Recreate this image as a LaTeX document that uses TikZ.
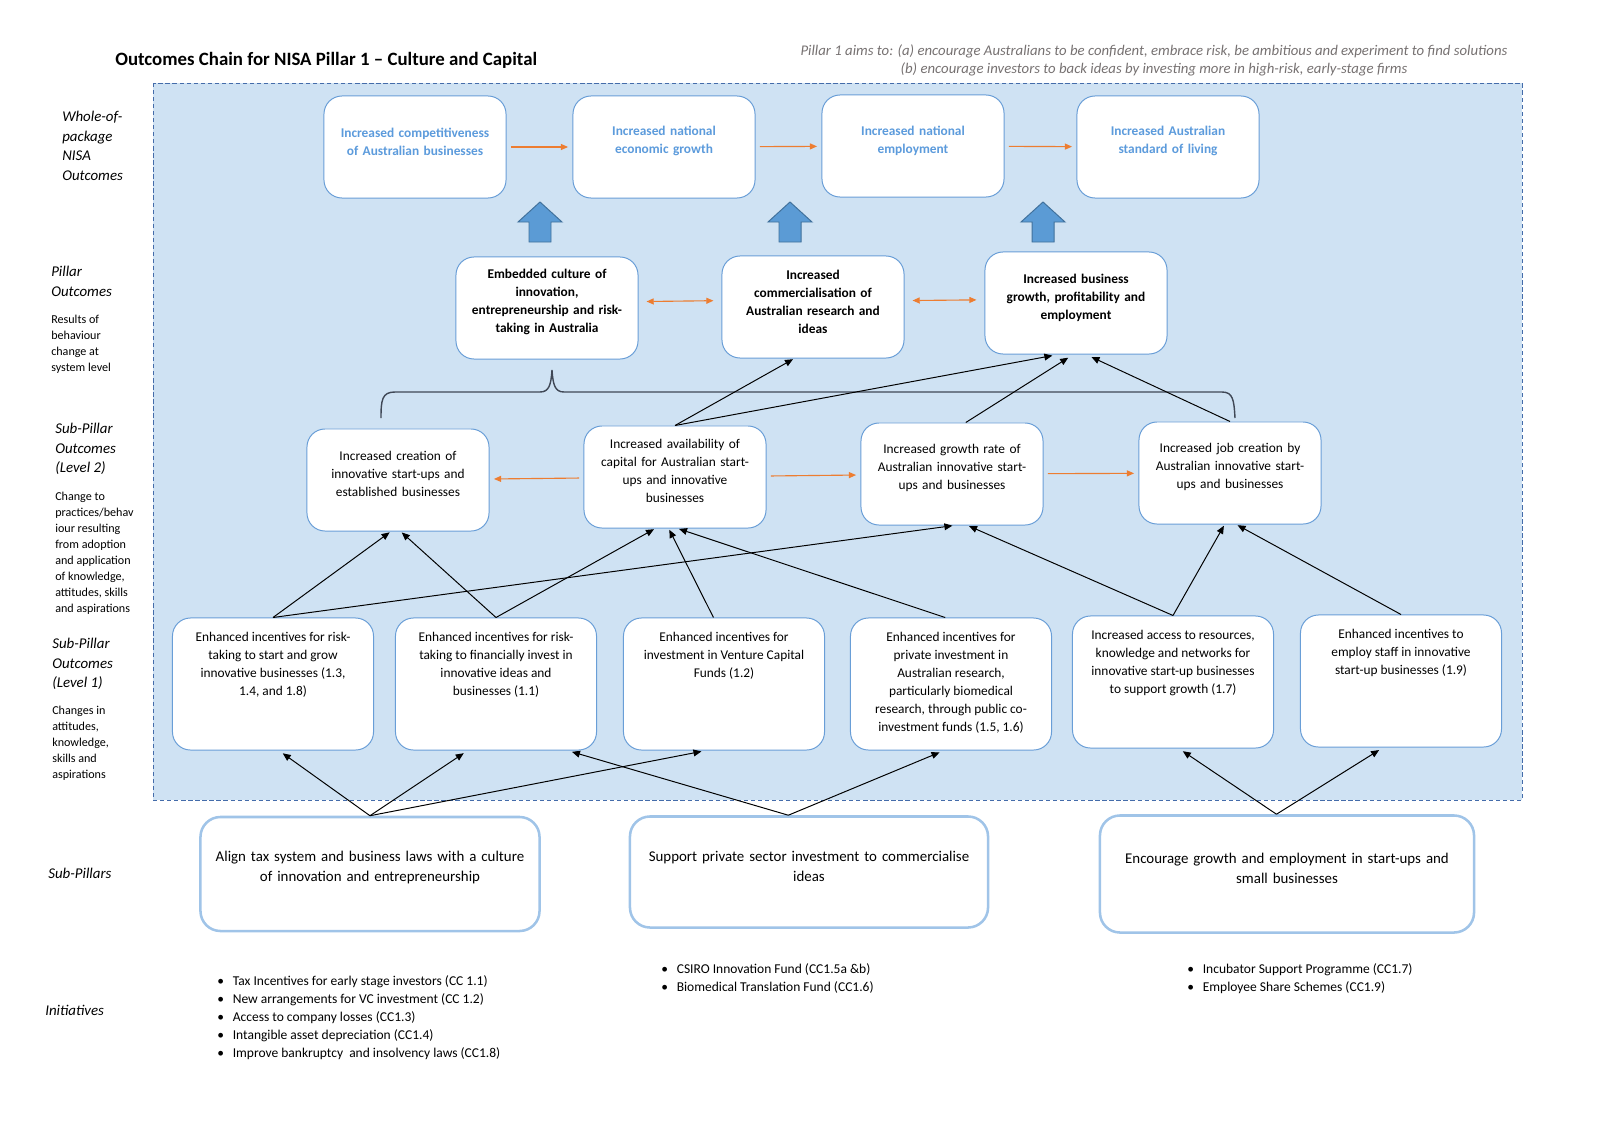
\documentclass[tikz,border=0pt]{standalone}
\usepackage{fontspec}
\setmainfont{Carlito}
\usetikzlibrary{arrows.meta, positioning}
\usepackage{xcolor}
\definecolor{PaneBlue}{RGB}{207,226,243}
\definecolor{DashBlue}{RGB}{68,108,170}
\definecolor{EdgeBlue}{RGB}{105,158,215}
\definecolor{SoftBlue}{RGB}{160,196,232}
\definecolor{TextBlue}{RGB}{92,155,220}
\definecolor{ArrowOrange}{RGB}{237,125,49}
\definecolor{BlockBlue}{RGB}{91,155,213}
\definecolor{BlockEdge}{RGB}{65,113,156}
\definecolor{AimGrey}{RGB}{118,113,113}
\definecolor{BraceGrey}{RGB}{64,72,86}

\newcommand{\bul}{\textbullet\hspace{0.22cm}}
\newcommand{\liftcard}{\par\kern0.28cm}
\newcommand{\liftsub}{\par\kern0.3cm}

\begin{document}
\begin{tikzpicture}[x=0.025cm, y=-0.025cm,
          card/.style={rectangle, draw=EdgeBlue, line width=0.7pt, fill=white, rounded corners=0.45cm, minimum width=4.55cm, minimum height=2.55cm, text width=4.35cm, inner xsep=0.1cm, align=center, font=\fontsize{9.5}{12.8}\selectfont, execute at end node=\liftcard},
          wholebox/.style={card, text=TextBlue, font=\fontsize{9.5}{12.8}\selectfont\bfseries},
          pillarbox/.style={card, font=\fontsize{9.5}{12.8}\selectfont\bfseries},
          levelbox/.style={card},
          enablebox/.style={rectangle, draw=EdgeBlue, line width=0.7pt, fill=white, rounded corners=0.45cm, minimum width=5.025cm, minimum height=3.3cm, inner sep=0pt, font=\fontsize{9.5}{12.8}\selectfont, execute at begin node={\begin{minipage}[c][2.6cm][t]{4.8cm}\centering}, execute at end node={\end{minipage}}},
          subbox/.style={rectangle, draw=SoftBlue, line width=1.8pt, fill=white, rounded corners=0.5cm, inner xsep=0.1cm, align=center, font=\fontsize{10.6}{14.2}\selectfont, execute at end node=\liftsub},
          flow/.style={arrows={-Triangle[length=0.2cm,width=0.17cm]}, line width=0.7pt, black, shorten >=1pt},
          link/.style={arrows={-Triangle[length=0.18cm,width=0.15cm]}, line width=0.8pt, ArrowOrange, shorten <=0.11cm, shorten >=0.11cm},
          bilink/.style={link, arrows={Triangle[length=0.18cm,width=0.15cm]-Triangle[length=0.18cm,width=0.15cm]}, shorten <=0.2cm, shorten >=0.2cm},
          pane/.style={draw=DashBlue, fill=PaneBlue, dash pattern=on 3pt off 2pt, line width=0.7pt},
          blockup/.style={fill=BlockBlue, draw=BlockEdge, line width=0.7pt},
          brace/.style={draw=BraceGrey, line width=1pt},
          rowlabel/.style={align=left, inner sep=0pt, anchor=north west, font=\fontsize{10.6}{13.9}\selectfont\itshape},
          rownote/.style={align=left, inner sep=0pt, anchor=north west, font=\fontsize{8.6}{11.4}\selectfont},
          initlist/.style={align=left, inner sep=0pt, anchor=north west, font=\fontsize{9.6}{12.9}\selectfont}
        ]
          \useasboundingbox (0,0) rectangle (1613,1138);
          \draw[pane] (153,83) rectangle (1522,800);

          % titles
          \node (title) [anchor=west, inner sep=0pt, font=\fontsize{13.4}{16}\selectfont\bfseries] at (115,60) {Outcomes Chain for NISA Pillar 1 -- Culture and Capital};
          \node (aims) [align=center, inner sep=0pt, text=AimGrey, font=\fontsize{10.5}{12.8}\selectfont\itshape] at (1154,60) {Pillar 1 aims to: (a) encourage Australians to be confident, embrace risk, be ambitious and experiment to find solutions\\(b) encourage investors to back ideas by investing more in high-risk, early-stage firms};

          % row labels
          \node (lblwhole) [rowlabel] at (62,111) {Whole-of-\\package\\NISA\\Outcomes};
          \node (lblpillar) [rowlabel] at (51,266) {Pillar\\Outcomes};
          \node (notepillar) [rownote] at (51,315) {Results of\\behaviour\\change at\\system level};
          \node (lbllevel2) [rowlabel] at (55,423) {Sub-Pillar\\Outcomes\\(Level 2)};
          \node (notelevel2) [rownote] at (55,492) {Change to\\practices/behav\\iour resulting\\from adoption\\and application\\of knowledge,\\attitudes, skills\\and aspirations};
          \node (lbllevel1) [rowlabel] at (52,638) {Sub-Pillar\\Outcomes\\(Level 1)};
          \node (notelevel1) [rownote] at (52,706) {Changes in\\attitudes,\\knowledge,\\skills and\\aspirations};
          \node (lblsub) [rowlabel, anchor=west] at (48,873) {Sub-Pillars};
          \node (lblinit) [rowlabel, anchor=west] at (45,1010) {Initiatives};

          % whole-of-package outcomes
          \node (comp) [wholebox] at (415,147) {Increased competitiveness\\of Australian businesses};
          \node (growth) [wholebox] at (664,147) {Increased national\\economic growth};
          \node (employ) [wholebox] at (913,146) {Increased national\\employment};
          \node (living) [wholebox] at (1168,147) {Increased Australian\\standard of living};

          \foreach \bx in {540,790,1043}
            \draw[blockup] (\bx-11,242) -- (\bx-11,222) -- (\bx-22,222) -- (\bx,202) -- (\bx+22,222) -- (\bx+11,222) -- (\bx+11,242) -- cycle;

          % pillar outcomes
          \node (culture) [pillarbox] at (547,308) {Embedded culture of\\innovation,\\entrepreneurship and risk-\\taking in Australia};
          \node (commerc) [pillarbox] at (813,307) {Increased\\commercialisation of\\Australian research and\\ideas};
          \node (bizgrowth) [pillarbox] at (1076,303) {Increased business\\growth, profitability and\\employment};

          \draw[brace] (381,418) .. controls (381,400) and (382,392) .. (395,392) -- (540,392) .. controls (549,392) and (551,385) .. (552,370) .. controls (553,385) and (555,392) .. (564,392) -- (1222,392) .. controls (1233,392) and (1234,400) .. (1235,418);

          % sub-pillar outcomes, level 2
          \node (creation) [levelbox] at (398,480) {Increased creation of\\innovative start-ups and\\established businesses};
          \node (capital) [levelbox] at (675,477) {Increased availability of\\capital for Australian start-\\ups and innovative\\businesses};
          \node (rate) [levelbox] at (952,474) {Increased growth rate of\\Australian innovative start-\\ups and businesses};
          \node (jobs) [levelbox] at (1230,473) {Increased job creation by\\Australian innovative start-\\ups and businesses};

          % sub-pillar outcomes, level 1
          \node (risk) [enablebox] at (273,684) {Enhanced incentives for risk-\\taking to start and grow\\innovative businesses (1.3,\\1.4, and 1.8)};
          \node (invest) [enablebox] at (496,684) {Enhanced incentives for risk-\\taking to financially invest in\\innovative ideas and\\businesses (1.1)};
          \node (vcfund) [enablebox] at (724,684) {Enhanced incentives for\\investment in Venture Capital\\Funds (1.2)};
          \node (private) [enablebox] at (951,684) {Enhanced incentives for\\private investment in\\Australian research,\\particularly biomedical\\research, through public co-\\investment funds (1.5, 1.6)};
          \node (access) [enablebox] at (1173,682) {Increased access to resources,\\knowledge and networks for\\innovative start-up businesses\\to support growth (1.7)};
          \node (staff) [enablebox] at (1401,681) {Enhanced incentives to\\employ staff in innovative\\start-up businesses (1.9)};

          % sub-pillars
          \node (taxlaw) [subbox, minimum width=8.475cm, minimum height=2.85cm, text width=8.25cm] at (370,874) {Align tax system and business laws with a culture\\of innovation and entrepreneurship};
          \node (backing) [subbox, minimum width=8.95cm, minimum height=2.775cm, text width=8.7cm] at (809,872) {Support private sector investment to commercialise\\ideas};
          \node (startups) [subbox, minimum width=9.35cm, minimum height=2.925cm, text width=9.1cm] at (1287,874) {Encourage growth and employment in start-ups and\\small businesses};

          % initiatives
          \node (taxlist) [initlist] at (217,975) {\bul Tax Incentives for early stage investors (CC 1.1)\\\bul New arrangements for VC investment (CC 1.2)\\\bul Access to company losses (CC1.3)\\\bul Intangible asset depreciation (CC1.4)\\\bul Improve bankruptcy\ \ and insolvency laws (CC1.8)};
          \node (fundlist) [initlist] at (661,963) {\bul CSIRO Innovation Fund (CC1.5a \&b)\\\bul Biomedical Translation Fund (CC1.6)};
          \node (startlist) [initlist] at (1187,963) {\bul Incubator Support Programme (CC1.7)\\\bul Employee Share Schemes (CC1.9)};

          % orange links
          \draw[link] (comp) -- (growth);
          \draw[link] (growth) -- (employ);
          \draw[link] (employ) -- (living);
          \draw[bilink] (culture.4) -- (commerc.176);
          \draw[bilink] (commerc.4) -- (bizgrowth.178);
          \draw[link] (capital) -- (creation);
          \draw[link] (capital) -- (rate);
          \draw[link] (rate) -- (jobs);

          % level 2 to pillar outcomes
          \draw[flow] (capital.north) -- (commerc.250);
          \draw[flow, shorten >=0.15cm] (capital.north) -- (bizgrowth.251);
          \draw[flow, shorten >=0.15cm] (rate.75) -- (bizgrowth.267);
          \draw[flow, shorten >=0.15cm] (jobs.north) -- (bizgrowth.281);

          % level 1 to level 2
          \draw[flow] (risk.north) -- (creation.262);
          \draw[flow] (risk.north) -- (rate.272);
          \draw[flow] (invest.north) -- (creation.273);
          \draw[flow] (invest.north) -- (capital.249);
          \draw[flow] (vcfund.99) -- (capital.263);
          \draw[flow] (private.95) -- (capital.273);
          \draw[flow] (access.north) -- (rate.287);
          \draw[flow] (access.north) -- (jobs.264);
          \draw[flow] (staff.north) -- (jobs.277);

          % sub-pillars to level 1
          \draw[flow, shorten >=0.12cm] (taxlaw.north) -- (risk.275);
          \draw[flow, shorten >=0.12cm] (taxlaw.north) -- (invest.247);
          \draw[flow, shorten >=0.12cm] (taxlaw.north) -- (vcfund.255);
          \draw[flow, shorten >=0.12cm] (backing.110) -- (invest.317);
          \draw[flow, shorten >=0.12cm] (backing.110) -- (private.264);
          \draw[flow, shorten >=0.12cm] (startups.100) -- (access.275);
          \draw[flow, shorten >=0.12cm] (startups.100) -- (staff.255);
        \end{tikzpicture}
\end{document}
